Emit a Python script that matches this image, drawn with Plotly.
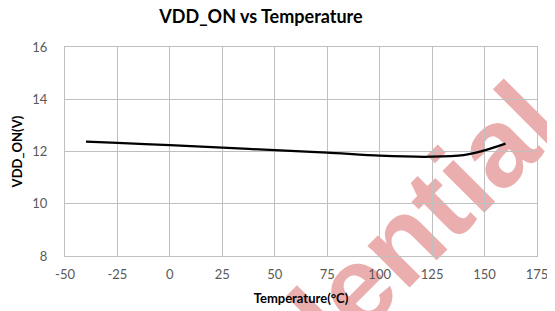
import plotly.graph_objects as go

temperature = [-40, -25, 0, 25, 50, 75, 100, 125, 140, 150, 160]
vdd_on = [12.38, 12.33, 12.24, 12.15, 12.05, 11.96, 11.84, 11.80, 11.86, 12.04, 12.30]
x_ticks = [-50, -25, 0, 25, 50, 75, 100, 125, 150, 175]
x_tick_labels = ["-50", "-25", "0", "25", "50", "75", "100", "125", "150", "175"]
y_ticks = [8, 10, 12, 14, 16]

W, H = 555, 311
OFF = 8  # page body margin of the browser
sx0, sx1, sy0, sy1 = 65, 537, 47, 256
ml, mt = sx0 - OFF, sy0 - OFF
mr, mb = W - (sx1 - OFF), H - (sy1 - OFF)
pw, ph = W - ml - mr, H - mt - mb

def px(sx):
    return (sx - OFF - ml) / pw

def py(sy):
    return (H - mb - (sy - OFF)) / ph

fig = go.Figure()
fig.add_trace(go.Scatter(
    x=temperature, y=vdd_on, mode="lines",
    line=dict(color="black", width=2.25, shape="spline", smoothing=0.8),
    showlegend=False, hoverinfo="skip",
))

# "Confidential" watermark drawn behind the grid
cx, cy = 303, 324
fig.add_shape(
    type="rect", xref="paper", yref="paper",
    x0=px(cx - 5), x1=px(cx + 5), y0=py(cy + 5), y1=py(cy - 5),
    line=dict(width=0), fillcolor="rgba(0,0,0,0)", layer="below",
    label=dict(text="<b>Confidential</b>", textangle=-45,
               font=dict(family="Liberation Sans", size=112, color="rgb(234,174,174)"),
               textposition="middle center"),
)

grid = "#BFBFBF"
fig.update_layout(
    width=W, height=H,
    margin=dict(l=ml, r=mr, t=mt, b=mb, autoexpand=False),
    paper_bgcolor="white", plot_bgcolor="rgba(0,0,0,0)",
    title=dict(text="<b>VDD_ON vs Temperature</b>", x=(261 - OFF) / W, xanchor="center",
               y=1 - (17 - OFF) / H, yanchor="middle",
               font=dict(family="Lato", size=18, color="black")),
    xaxis=dict(range=[-50, 175], tickvals=x_ticks, ticktext=x_tick_labels,
               showgrid=True, gridcolor=grid, gridwidth=1, automargin=False,
               showline=True, linecolor=grid, linewidth=1, mirror=True, zeroline=False,
               ticks="", ticklabelstandoff=6,
               tickfont=dict(family="Lato", size=13, color="#595959"),
               title=dict(text="<b>Temperature(°C)</b>", standoff=13,
                          font=dict(family="Lato", size=13, color="black"))),
    yaxis=dict(range=[8, 16], tickvals=y_ticks, showgrid=True, gridcolor=grid, gridwidth=1,
               automargin=False,
               showline=True, linecolor=grid, linewidth=1, mirror=True, zeroline=False,
               ticks="", ticklabelstandoff=14,
               tickfont=dict(family="Lato", size=13, color="#595959"),
               title=dict(text="<b>VDD_ON(V)</b>", standoff=6,
                          font=dict(family="Lato", size=13, color="black"))),
)

fig.write_html("out.html")
